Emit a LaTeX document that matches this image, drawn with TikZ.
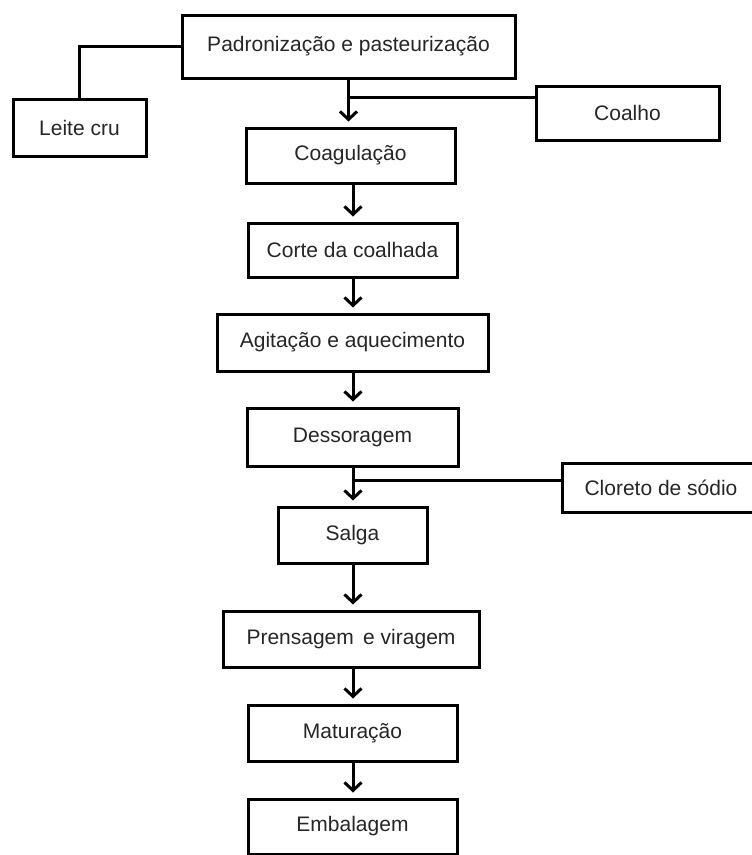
\documentclass[tikz,border=0pt]{standalone}
\usepackage{fontspec}
\setmainfont{Liberation Sans}
\usetikzlibrary{arrows.meta}
\begin{document}
\begin{tikzpicture}[x=1pt,y=-1pt,
  box/.style={draw=black, line width=3pt, fill=white, inner sep=0pt,
    font=\fontsize{21}{25}\selectfont, text=black!85},
  link/.style={draw=black, line width=3pt},
  arr/.style={link, -{Straight Barb[length=8pt,width=17pt,line width=3pt]}, shorten >=5pt}]
\useasboundingbox (0,0) rectangle (752,855);
\node[box, minimum width=333pt, minimum height=63pt] (pad) at (348.5,46.5) {Padronização e pasteurização};
\node[box, minimum width=133pt, minimum height=57pt] (leite) at (79.5,127.5) {Leite cru};
\node[box, minimum width=183pt, minimum height=54pt] (coalho) at (627.5,113) {Coalho};
\node[box, minimum width=209pt, minimum height=55pt] (coag) at (350.5,155.5) {Coagulação};
\node[box, minimum width=209pt, minimum height=54pt] (corte) at (352.5,250) {Corte da coalhada};
\node[box, minimum width=271pt, minimum height=57pt] (agit) at (352.5,342.5) {Agitação e aquecimento};
\node[box, minimum width=211pt, minimum height=58pt] (desso) at (352.5,437) {Dessoragem};
\node[box, minimum width=198pt, minimum height=49pt] (clor) at (661,487.5) {Cloreto de sódio};
\node[box, minimum width=149pt, minimum height=56pt] (salga) at (352.5,535) {Salga};
\node[box, minimum width=256pt, minimum height=56pt] (prens) at (351,639) {Prensagem\, e viragem};
\node[box, minimum width=209pt, minimum height=56pt] (matur) at (352.5,733) {Maturação};
\node[box, minimum width=209pt, minimum height=55pt] (emb) at (352.5,826.5) {Embalagem};
\coordinate (j1) at (348,97);
\coordinate (j2) at (353,480);
\draw[link] (leite.north) |- (pad.west);
\draw[arr] (pad.south) -- (pad.south |- coag.north);
\draw[link] (coalho.west |- j1) -- (j1);
\draw[arr] (coag.south -| j2) -- (corte.north -| j2);
\draw[arr] (corte.south -| j2) -- (agit.north -| j2);
\draw[arr] (agit.south -| j2) -- (desso.north -| j2);
\draw[arr] (desso.south -| j2) -- (salga.north -| j2);
\draw[link] (clor.west |- j2) -- (j2);
\draw[arr] (salga.south -| j2) -- (prens.north -| j2);
\draw[arr] (prens.south -| j2) -- (matur.north -| j2);
\draw[arr] (matur.south -| j2) -- (emb.north -| j2);
\end{tikzpicture}
\end{document}
